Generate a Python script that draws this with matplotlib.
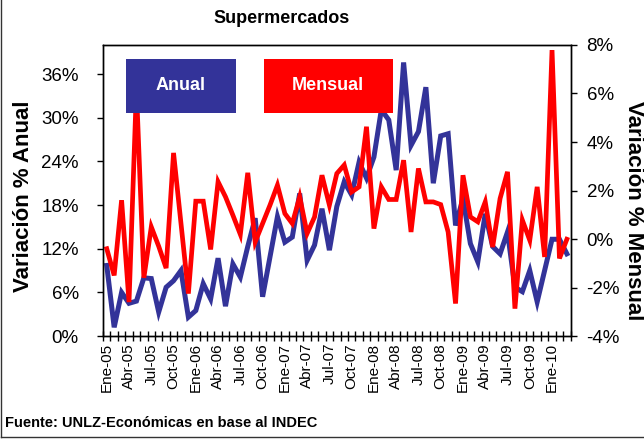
import matplotlib
matplotlib.use("Agg")
import matplotlib.pyplot as plt
from matplotlib.patches import Rectangle
from matplotlib.lines import Line2D
import numpy as np

plt.rcParams['font.family'] = ['Liberation Sans', 'DejaVu Sans']

# meses Ene-05 .. Mar-10
meses = ["Ene", "Feb", "Mar", "Abr", "May", "Jun", "Jul", "Ago", "Sep", "Oct", "Nov", "Dic"]
anios = ["05", "06", "07", "08", "09", "10"]
categorias = [m + "-" + a for a in anios for m in meses][:63]

# variacion anual (eje izq, %)
anual = [9.7, 1.2, 6.0, 4.5, 4.8, 8.0, 7.9, 3.3, 6.7, 7.6,
         9.0, 2.6, 3.5, 7.2, 5.1, 10.7, 4.1, 9.9, 8.1, 12.3,
         16.2, 5.4, 10.9, 16.4, 12.9, 13.6, 19.6, 10.4, 12.5, 17.5,
         11.8, 17.8, 21.2, 19.4, 23.9, 21.7, 24.6, 31.1, 29.7, 22.8,
         37.6, 26.2, 28.1, 34.2, 21.0, 27.5, 27.8, 15.2, 18.9, 12.7,
         10.2, 16.8, 12.3, 11.3, 14.3, 6.7, 6.1, 9.0, 4.7, 9.0,
         13.3, 13.3, 11.3]

# variacion mensual (eje der, %)
mensual = [-0.4, -1.5, 1.6, -2.6, 6.2, -1.6, 0.5, -0.3, -1.2, 3.55,
           0.65, -2.25, 1.56, 1.56, -0.43, 2.36, 1.74, 0.98, 0.19, 2.73,
           -0.12, 0.64, 1.40, 2.22, 1.05, 0.64, 1.74, 0.23, 0.91, 2.63,
           1.40, 2.70, 3.05, 1.94, 2.15, 4.63, 0.43, 2.15, 1.63, 1.63,
           3.25, 0.29, 2.91, 1.53, 1.53, 1.42, 0.29, -2.66, 2.63, 0.91,
           0.71, 1.53, -0.33, 1.67, 2.77, -2.87, 0.78, -0.05, 2.15, -0.74,
           7.79, -0.80, -0.01]

ticks_izq = [0, 6, 12, 18, 24, 30, 36]
ticks_der = [-4, -2, 0, 2, 4, 6, 8]

azul = "#333399"
rojo = "#FF0000"

fig = plt.figure(figsize=(6.44, 4.41), dpi=100)
ax = fig.add_axes([0.160, 0.238, 0.726, 0.660])
ax2 = ax.twinx()

x = np.arange(len(categorias))
ax.plot(x, anual, color=azul, lw=3.6, solid_joinstyle="miter")
ax2.plot(x, mensual, color=rojo, lw=3.4, solid_joinstyle="miter")

ax.set_xlim(-0.5, len(categorias) - 0.5)
ax.set_ylim(0, 40)
ax2.set_ylim(-4, 8)

ax.set_xticks(x[::3])
ax.set_xticklabels(categorias[::3], rotation=90, fontsize=11)
ax.set_xticks(np.arange(-0.5, len(categorias), 1), minor=True)
ax.tick_params(axis="x", which="major", length=0, pad=5)
ax.tick_params(axis="x", which="minor", direction="inout", length=7, width=1)

ax.set_yticks(ticks_izq)
ax.set_yticklabels([f"{t}%" for t in ticks_izq], fontsize=13.5)
ax.tick_params(axis="y", direction="out", length=4.5, width=1, pad=13)

ax2.set_yticks(ticks_der)
ax2.set_yticklabels([f"{t}%" for t in ticks_der], fontsize=13.5)
ax2.tick_params(axis="y", direction="out", length=4.5, width=1, pad=7)

for a in (ax, ax2):
    for s in a.spines.values():
        s.set_linewidth(1)
        s.set_color("black")

# titulo y ejes
fig.text(0.438, 0.959, "Supermercados", ha="center", va="center",
         fontsize=13, fontweight="bold")
fig.text(0.037, 0.556, "Variación % Anual", rotation=90, ha="center", va="center",
         fontsize=16, fontweight="bold")
fig.text(0.984, 0.522, "Variación % Mensual", rotation=-90, ha="center", va="center",
         fontsize=16, fontweight="bold")
fig.text(0.008, 0.041, "Fuente: UNLZ-Económicas en base al INDEC", ha="left", va="center",
         fontsize=10.5, fontweight="bold")

# cajas de leyenda
fig.patches.append(Rectangle((0.1957, 0.7444), 0.1708, 0.1218, transform=fig.transFigure,
                             facecolor=azul, edgecolor="none", zorder=5))
fig.patches.append(Rectangle((0.4099, 0.7444), 0.1998, 0.1218, transform=fig.transFigure,
                             facecolor=rojo, edgecolor="none", zorder=5))
fig.text(0.281, 0.805, "Anual", color="white", ha="center", va="center",
         fontsize=13, fontweight="bold", zorder=6)
fig.text(0.5098, 0.805, "Mensual", color="white", ha="center", va="center",
         fontsize=13, fontweight="bold", zorder=6)

# borde del grafico
fig.lines.append(Line2D([0.002, 0.002], [0.009, 1.0], transform=fig.transFigure, color="#333333", lw=1))
fig.lines.append(Line2D([0.002, 1.0], [0.009, 0.009], transform=fig.transFigure, color="#333333", lw=1))

fig.savefig("out.png", dpi=100)
